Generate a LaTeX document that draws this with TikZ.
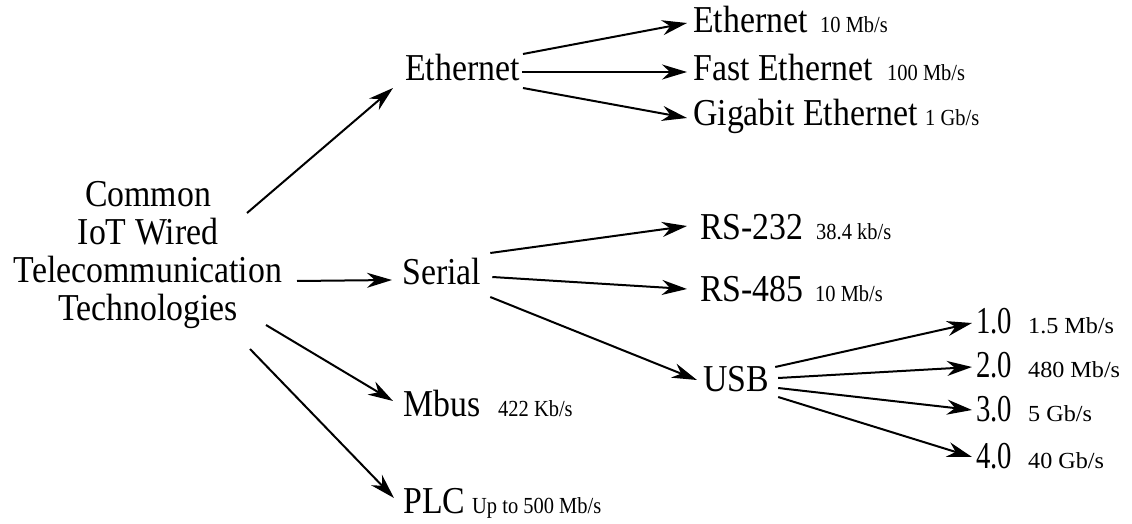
\documentclass[tikz,border=0pt]{standalone}
\usepackage{fontspec}
\setmainfont{Liberation Serif}[FakeStretch=0.89]
\usetikzlibrary{arrows.meta}
\newcommand\ratetxt[1]{{\fontsize{23}{26}\selectfont #1}}
\newcommand\vrate[1]{\scalebox{1.18}[1]{\fontsize{23}{26}\selectfont #1}}
\newcommand\vnum[1]{\makebox[52pt][l]{\scalebox{0.85}[1]{#1}}}
\begin{document}
\begin{tikzpicture}[x=1pt,y=-1pt,
  main/.style={font=\fontsize{38}{38}\selectfont, inner sep=0pt, anchor=base west},
  arr/.style={line width=2pt, -{Stealth[length=25pt,width=15pt,inset=8pt]}}]
\useasboundingbox (0,0) rectangle (1132,524);
% nodes
\node[font=\fontsize{38}{38}\selectfont, align=center, inner sep=0pt] (root) at (148,255)
  {Common\\IoT Wired\\Telecommunication\\Technologies};
\node[main] (eth) at (405,81) {Ethernet};
\node[main] (ser) at (402,284) {Serial};
\node[main] (mbus) at (403,416) {\makebox[95pt][l]{Mbus}\ratetxt{422 Kb/s}};
\node[main] (plc) at (403,513) {\makebox[69pt][l]{PLC}\ratetxt{Up to 500 Mb/s}};
\node[main] (e10) at (693,33) {\makebox[127pt][l]{Ethernet}\ratetxt{10 Mb/s}};
\node[main] (e100) at (693,81) {\makebox[194pt][l]{Fast Ethernet}\ratetxt{100 Mb/s}};
\node[main] (e1g) at (693,125) {\makebox[232pt][l]{Gigabit Ethernet}\ratetxt{1 Gb/s}};
\node[main] (rs232) at (700,239) {\makebox[116pt][l]{RS-232}\ratetxt{38.4 kb/s}};
\node[main] (rs485) at (700,301) {\makebox[115pt][l]{RS-485}\ratetxt{10 Mb/s}};
\node[main] (usb) at (703,391) {USB};
\node[main] (v1) at (976,333) {\vnum{1.0}\vrate{1.5 Mb/s}};
\node[main] (v2) at (976,377) {\vnum{2.0}\vrate{480 Mb/s}};
\node[main] (v3) at (976,421) {\vnum{3.0}\vrate{5 Gb/s}};
\node[main] (v4) at (976,468) {\vnum{4.0}\vrate{40 Gb/s}};
% connectors from root
\draw[arr] ([shift={(99,-42)}]root.center) -- ([shift={(-12,7)}]eth.base west);
\draw[arr] ([shift={(149,26)}]root.center) -- ([shift={(-10,-4)}]ser.base west);
\draw[arr] ([shift={(118,70)}]root.center) -- ([shift={(-10,-15)}]mbus.base west);
\draw[arr] ([shift={(102,94)}]root.center) -- ([shift={(-9,-15)}]plc.base west);
% Ethernet
\draw[arr] ([shift={(3,-27)}]eth.base east) -- ([shift={(-6,-10)}]e10.base west);
\draw[arr] ([shift={(2,-9)}]eth.base east) -- ([shift={(-6,-9)}]e100.base west);
\draw[arr] ([shift={(3,7)}]eth.base east) -- ([shift={(-6,-7)}]e1g.base west);
% Serial
\draw[arr] ([shift={(9,-31)}]ser.base east) -- ([shift={(-13,-13)}]rs232.base west);
\draw[arr] ([shift={(11,-7)}]ser.base east) -- ([shift={(-13,-12)}]rs485.base west);
\draw[arr] ([shift={(9,13)}]ser.base east) -- ([shift={(-6,-11)}]usb.base west);
% USB
\draw[arr] ([shift={(6,-24)}]usb.base east) -- ([shift={(-4,-10)}]v1.base west);
\draw[arr] ([shift={(9,-13)}]usb.base east) -- ([shift={(-4,-10)}]v2.base west);
\draw[arr] ([shift={(9,-3)}]usb.base east) -- ([shift={(-4,-11)}]v3.base west);
\draw[arr] ([shift={(9,6)}]usb.base east) -- ([shift={(-4,-11)}]v4.base west);
\end{tikzpicture}
\end{document}
